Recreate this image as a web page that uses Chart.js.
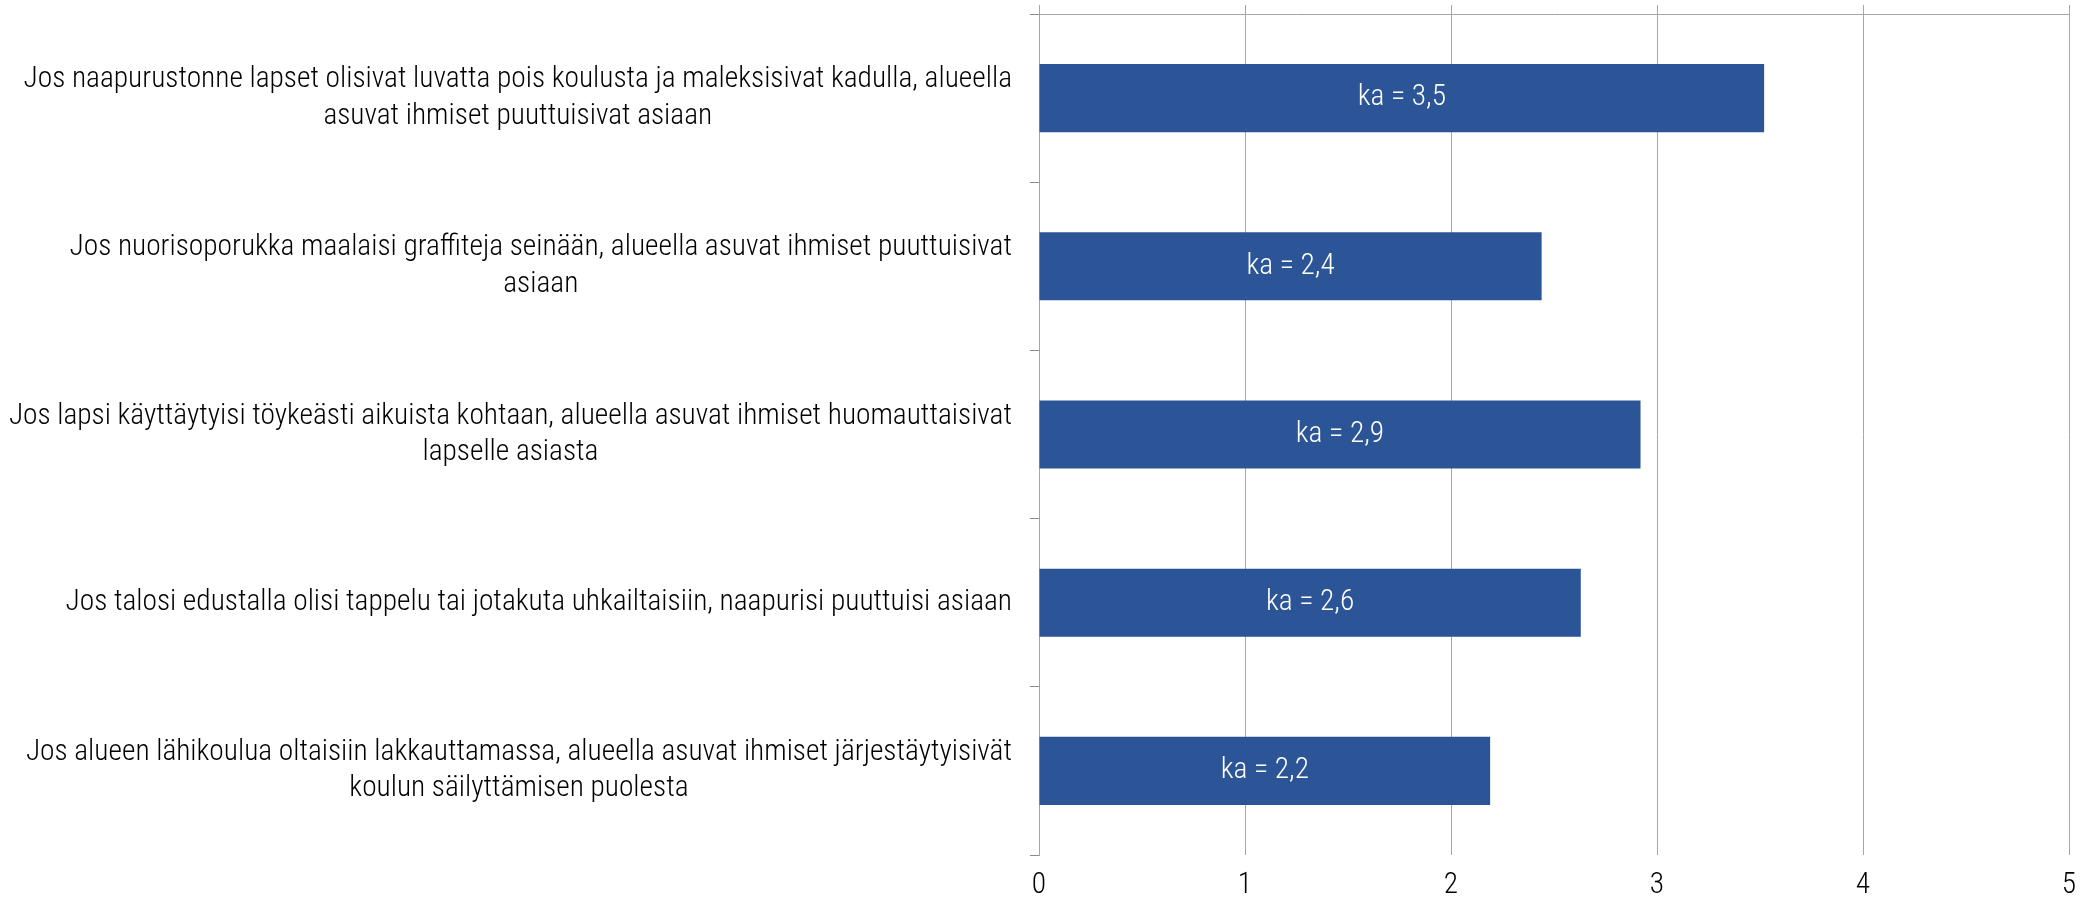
<!DOCTYPE html>
<html>
<head>
<meta charset="utf-8">
<script src="https://cdn.jsdelivr.net/npm/chart.js@4/dist/chart.umd.min.js"></script>
<style>
html, body { margin: 0; padding: 0; background: #fff; }
</style>
</head>
<body>
<canvas id="wykres" width="2096" height="905"></canvas>
<script>
// kategorie (etykiety osi Y, podzielone na linie jak w oryginale)
const kategorie = [
    ["Jos naapurustonne lapset olisivat luvatta pois koulusta ja maleksisivat kadulla, alueella", "asuvat ihmiset puuttuisivat asiaan"],
    ["Jos nuorisoporukka maalaisi graffiteja seinään, alueella asuvat ihmiset puuttuisivat", "asiaan"],
    ["Jos lapsi käyttäytyisi töykeästi aikuista kohtaan, alueella asuvat ihmiset huomauttaisivat", "lapselle asiasta"],
    ["Jos talosi edustalla olisi tappelu tai jotakuta uhkailtaisiin, naapurisi puuttuisi asiaan"],
    ["Jos alueen lähikoulua oltaisiin lakkauttamassa, alueella asuvat ihmiset järjestäytyisivät", "koulun säilyttämisen puolesta"]
]
// keskiarvot (ka)
const keskiarvot = [3.52, 2.44, 2.92, 2.63, 2.19]
// podziałka osi X
const podzialka = [0, 1, 2, 3, 4, 5]

// Roboto Light, zwężony (Chart.js nie przepuszcza "condensed" w style, więc idzie przez weight)
const rodzina = 'Roboto'
const grubosc = 'condensed 300'
const rozmiar = 29.4
const odstep = 27 // od osi do tekstu
const szary = '#a6a6a6'

// napisy "ka = x,y" na środku słupków
const napisy = {
    id: 'napisy',
    afterDatasetsDraw(chart) {
        const ctx = chart.ctx
        const meta = chart.getDatasetMeta(0)
        ctx.save()
        ctx.fillStyle = '#ffffff'
        ctx.font = grubosc + ' ' + rozmiar + 'px ' + rodzina
        ctx.textAlign = 'center'
        ctx.textBaseline = 'middle'
        meta.data.forEach((bar, i) => {
            const tekst = 'ka = ' + keskiarvot[i].toFixed(1).replace('.', ',')
            ctx.fillText(tekst, (bar.x + bar.base) / 2, bar.y)
        })
        ctx.restore()
    }
}

// etykiety osi Y: blok wyrównany do prawej, linie wyśrodkowane względem siebie
const etykiety = {
    id: 'etykiety',
    afterDraw(chart) {
        const ctx = chart.ctx
        const y = chart.scales.y
        const lh = rozmiar * 1.24
        ctx.save()
        ctx.fillStyle = '#000'
        ctx.font = grubosc + ' ' + rozmiar + 'px ' + rodzina
        ctx.textAlign = 'center'
        ctx.textBaseline = 'middle'
        kategorie.forEach((linie, i) => {
            const w = Math.max(...linie.map(l => ctx.measureText(l).width))
            const cx = y.right - odstep - w / 2
            const cy = y.getPixelForTick(i)
            linie.forEach((l, j) => {
                ctx.fillText(l, cx, cy + (j - (linie.length - 1) / 2) * lh)
            })
        })
        ctx.restore()
    }
}

const ustawTicki = (scale) => {
    scale.ticks = podzialka.map(v => ({ value: v }))
}

const chart = new Chart(document.getElementById('wykres'), {
    type: 'bar',
    data: {
        labels: kategorie,
        datasets: [{
            data: keskiarvot,
            backgroundColor: '#2b5597',
            categoryPercentage: 1,
            barPercentage: 0.405
        }]
    },
    options: {
        indexAxis: 'y',
        responsive: false,
        animation: false,
        devicePixelRatio: 1,
        layout: { padding: { top: 5, right: 27, bottom: 0, left: 0 } },
        plugins: {
            legend: { display: false },
            tooltip: { enabled: false }
        },
        scales: {
            x: {
                position: 'bottom',
                min: 0,
                max: 5,
                afterBuildTicks: ustawTicki,
                grid: { color: szary, drawTicks: false },
                border: { display: false },
                ticks: {
                    color: '#000',
                    padding: 13,
                    font: { family: rodzina, weight: grubosc, size: rozmiar, lineHeight: 1.2 }
                },
                afterFit(scale) {
                    scale.height = 50
                }
            },
            x2: {
                position: 'top',
                min: 0,
                max: 5,
                afterBuildTicks: ustawTicki,
                grid: { color: szary, drawOnChartArea: false, tickLength: 9 },
                border: { color: szary },
                ticks: { display: false }
            },
            y: {
                offset: true,
                grid: { offset: true, color: '#8c8c8c', drawOnChartArea: false, tickLength: 9 },
                border: { color: szary },
                ticks: { display: false },
                afterFit(scale) {
                    scale.width = 1039
                    scale.paddingTop = 0
                    scale.paddingBottom = 0
                }
            }
        }
    },
    plugins: [napisy, etykiety]
})
</script>
</body>
</html>
